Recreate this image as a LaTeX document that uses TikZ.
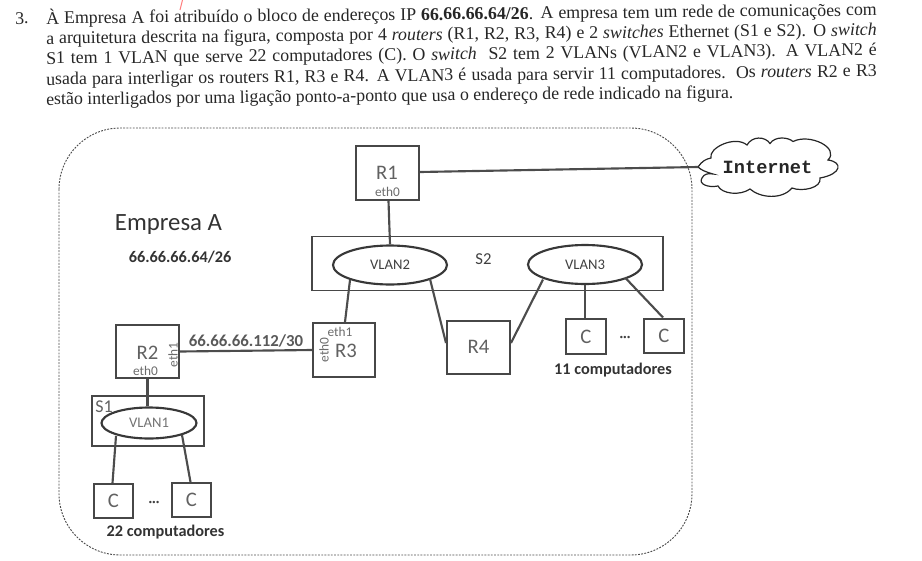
\documentclass[tikz,border=0pt]{standalone}
\usepackage{fontspec}
\setmainfont{Liberation Serif}
\newfontfamily\lab{Carlito}
\newfontfamily\mon{Liberation Mono}
\usetikzlibrary{shapes.geometric,calc}
\tikzset{x=0.75pt,y=-0.75pt,
 boxn/.style={draw=black!72,line width=1.5pt,inner sep=0pt,rectangle,text=black!62,font=\lab\fontsize{15.5}{16}\selectfont},
 swbox/.style={draw=black!72,line width=1.4pt,inner sep=0pt,rectangle},
 vlan/.style={draw=black!78,line width=1.6pt,ellipse,inner sep=0pt,text=black!75,font=\lab\fontsize{11}{12}\selectfont},
 link/.style={draw=black!70,line width=1.6pt},
 small/.style={text=black!58,inner sep=0pt,font=\lab\fontsize{10}{11}\selectfont},
 bold/.style={text=black!80,inner sep=0pt,font=\lab\bfseries\fontsize{12.2}{13}\selectfont},
 para/.style={anchor=base west,inner sep=0pt,rotate=0.58,text=black!85,font=\fontsize{13.4}{15}\selectfont},
}
\newcommand{\bx}[6][boxn]{\node[#1,minimum width=#4*0.75pt,minimum height=#5*0.75pt] (#2) at (#3) {#6};}
\newcommand{\jline}[1]{\makebox[623pt][s]{#1}}
\begin{document}
\begin{tikzpicture}
\useasboundingbox (0,0) rectangle (922,561);
\draw[draw=red!50,line width=0.8pt] (182.5,0) -- (180,10);
\node[para] (n) at (15,24) {3.};
\node[para] (l1) at (46,24) {\jline{À Empresa A foi atribuído o bloco de endereços IP \textbf{66.66.66.64/26}. A empresa tem um rede de comunicações com}};
\node[para] (l2) at (46,44) {\jline{a arquitetura descrita na figura, composta por 4 \textit{routers} (R1, R2, R3, R4) e 2 \textit{switches} Ethernet (S1 e S2). O \textit{switch}}};
\node[para] (l3) at (46,64) {\jline{S1 tem 1 VLAN que serve 22 computadores (C). O \textit{switch}\ \ S2 tem 2 VLANs (VLAN2 e VLAN3). A VLAN2 é}};
\node[para] (l4) at (46,85) {\jline{usada para interligar os routers R1, R3 e R4. A VLAN3 é usada para servir 11 computadores.\ \ Os \textit{routers} R2 e R3}};
\node[para] (l5) at (46,105) {estão interligados por uma ligação ponto-a-ponto que usa o endereço de rede indicado na figura.};
% enterprise
\draw[black!70,dash pattern=on 1.4pt off 1pt,line width=0.7pt,rounded corners=46pt] (59,128) rectangle (692,555);
\node[inner sep=0pt,text=black!80,font=\lab\fontsize{18.6}{20}\selectfont] (emp) at (168.5,225) {Empresa A};
\node[bold] (blk) at (180,257) {66.66.66.64/26};
% switches
\bx[swbox]{S2}{487.5,263.5}{351}{54}{}
\bx[swbox]{S1}{148,421}{112}{50}{}
\node[inner sep=0pt,font=\lab\fontsize{12.5}{13}\selectfont,text=black!75] (s2t) at (483.5,259) {S2};
\node[inner sep=0pt,font=\lab\fontsize{13.5}{14}\selectfont,text=black!62] (s1t) at (104,407) {S1};
\node[vlan,minimum width=114*0.75pt,minimum height=39*0.75pt] (V2) at (390,265) {VLAN2};
\node[vlan,minimum width=114*0.75pt,minimum height=39*0.75pt] (V3) at (585,264.5) {VLAN3};
\node[vlan,minimum width=95*0.75pt,minimum height=31*0.75pt,text=black!55] (V1) at (149,423) {VLAN1};
% routers
\bx{R1}{387.5,173}{63}{54}{}
\bx{R2}{147.5,351.5}{63}{53}{}
\bx{R3}{344,350}{62}{54}{}
\bx{R4}{478.5,347}{63}{53}{R4}
\bx{Ca}{113.5,501}{39}{34}{C}
\bx{Cb}{191.5,500}{39}{34}{C}
\bx{Cc}{586,336.5}{40}{35}{C}
\bx{Cd}{664,335.5}{40}{34}{C}
\node[boxn,draw=none] (r1t) at (387,173) {R1};
\node[small] (r1e) at (387.5,192) {eth0};
\node[boxn,draw=none] (r2t) at (147.5,353) {R2};
\node[small] (r2e) at (145.5,371) {eth0};
\node[small,rotate=90] (r2f) at (173,355) {eth1};
\node[boxn,draw=none] (r3t) at (346,351) {R3};
\node[small] (r3e) at (340,332) {eth1};
\node[small,rotate=90] (r3f) at (324,350) {eth0};
\node[text=black!75,inner sep=0pt,font=\bfseries\fontsize{11}{11}\selectfont] (d1) at (154,503) {...};
\node[text=black!75,inner sep=0pt,font=\bfseries\fontsize{11}{11}\selectfont] (d2) at (625,338) {...};
\node[bold] (c11) at (613,370) {11 computadores};
\node[bold] (c22) at (165.5,532) {22 computadores};
% cloud
\draw[black!85,line width=0.9pt] (698,167) .. controls (702,161) and (706,159) .. (711,158)
 .. controls (708,148) and (735,135) .. (747,145)
 .. controls (752,136) and (765,136) .. (770,143.5)
 .. controls (775,136) and (788,137) .. (793,141.5)
 .. controls (810,133) and (840,148) .. (828,160)
 .. controls (843,162) and (842,174) .. (820,178)
 .. controls (822,188) and (802,192) .. (792,188)
 .. controls (782,200) and (760,198) .. (750,189)
 .. controls (740,196) and (722,194) .. (718,186)
 .. controls (708,188) and (698,184) .. (702,178)
 .. controls (704,174) and (708,173) .. (713,174)
 .. controls (706,172) and (701,170) .. cycle;
\node[inner sep=0pt,font=\mon\bfseries\fontsize{14}{15}\selectfont,text=black!85] (I) at (767.5,167) {Internet};
\coordinate (Itip) at (698,167);
% links
\draw[link] ($(R1.east)+(0,-1)$) -- (Itip);
\draw[link] ($(R1.south)+(1,0)$) -- (V2.north);
\draw[link] ($(V2.center)+(-40,15)$) -- ($(R3.north)+(1,0)$);
\draw[link] ($(V2.center)+(40,14)$) -- ($(R4.west)+(0,-4)$);
\draw[link] ($(V3.center)+(-42,15)$) -- ($(R4.east)+(0,-4)$);
\draw[link] (V3.south) -- (Cc.north -| V3.south);
\draw[link] ($(V3.center)+(40,13)$) -- ($(Cd.north)+(-1,0)$);
\draw[link] (R2.south) -- (R2.south |- V1.north);
\draw[link] (R2.east) -- node[pos=.5,above=2pt,text=black!65,inner sep=0pt,font=\lab\bfseries\fontsize{12.6}{13}\selectfont] (ll) {66.66.66.112/30} (R3.west);
\draw[link] ($(V1.center)+(-33,13)$) -- ($(Ca.north)+(-1,0)$);
\draw[link] ($(V1.center)+(33,12)$) -- ($(Cb.north)+(-1,0)$);
\end{tikzpicture}
\end{document}
